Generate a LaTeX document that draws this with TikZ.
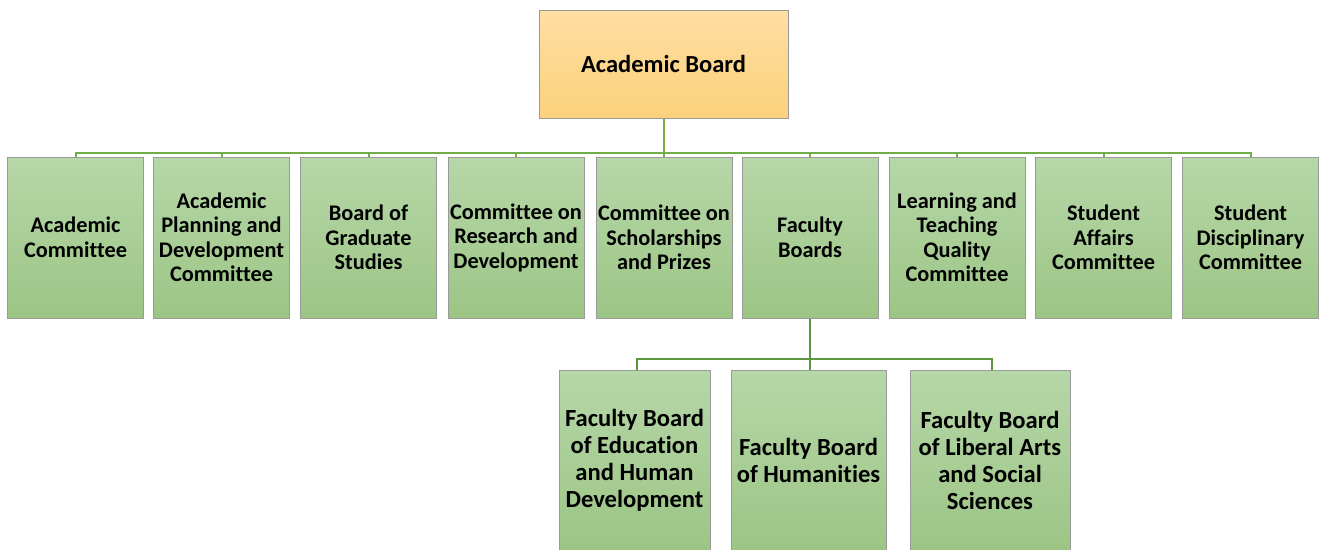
\documentclass[tikz,border=0pt]{standalone}
\usepackage{fontspec}
\setmainfont[Ligatures=NoCommon,Contextuals=NoAlternate]{Carlito}
\definecolor{orTop}{HTML}{FEDEA2}
\definecolor{orBot}{HTML}{FCD17C}
\definecolor{grTop}{HTML}{B6D7A8}
\definecolor{grBot}{HTML}{9CC585}
\definecolor{bord}{HTML}{9A9A9A}
\definecolor{lineA}{HTML}{70AD47}
\definecolor{lineB}{HTML}{5E9640}
\begin{document}
\begin{tikzpicture}[x=1pt,y=-1pt,
  topbox/.style={draw=bord,line width=1pt,top color=orTop,bottom color=orBot,minimum width=249pt,minimum height=108pt,inner sep=0pt,align=center,font=\fontsize{24.5}{28}\selectfont\bfseries},
  kidbox/.style={draw=bord,line width=1pt,top color=grTop,bottom color=grBot,minimum width=136pt,minimum height=161pt,inner sep=0pt,align=center,font=\fontsize{22.3}{24.5}\selectfont\bfseries},
  facbox/.style={draw=bord,line width=1pt,top color=grTop,bottom color=grBot,minimum height=180pt,inner sep=0pt,align=center,font=\fontsize{24.6}{27}\selectfont\bfseries},
  connA/.style={draw=lineA,line width=2pt},
  connB/.style={draw=lineB,line width=2pt}]
\useasboundingbox[fill=white] (0,0) rectangle (1319,549);
\node[topbox] (ab) at (663.5,64) {Academic Board};
\node[kidbox] (k1) at (75.5,237.5) {Academic\\Committee};
\node[kidbox] (k2) at (221.5,237.5) {Academic\\Planning and\\Development\\Committee};
\node[kidbox] (k3) at (368.5,237.5) {Board of\\Graduate\\Studies};
\node[kidbox] (k4) at (516,237.5) {Committee on\\Research and\\Development};
\node[kidbox] (k5) at (664,237.5) {Committee on\\Scholarships\\and Prizes};
\node[kidbox] (k6) at (810,237.5) {Faculty\\Boards};
\node[kidbox] (k7) at (957,237.5) {Learning and\\Teaching\\Quality\\Committee};
\node[kidbox] (k8) at (1103.5,237.5) {Student\\Affairs\\Committee};
\node[kidbox] (k9) at (1250.5,237.5) {Student\\Disciplinary\\Committee};
\node[facbox,minimum width=151pt] (f1) at (634.5,460) {Faculty Board\\of Education\\and Human\\Development};
\node[facbox,minimum width=155pt] (f2) at (808.5,460) {Faculty Board\\of Humanities};
\node[facbox,minimum width=160pt] (f3) at (990,460) {Faculty Board\\of Liberal Arts\\and Social\\Sciences};
\foreach \k in {k1,k2,k3,k4,k5,k6,k7,k8,k9}{
  \draw[connA] (ab.south) -- ++(0,34) -| (\k.north);
}
\draw[connB] (k6.south) -- ++(0,40) -| ([xshift=2.5pt]f1.north);
\draw[connB] (k6.south) -- ++(0,40) -| ([xshift=1.5pt]f2.north);
\draw[connB] (k6.south) -- ++(0,40) -| ([xshift=2pt]f3.north);
\end{tikzpicture}
\end{document}
